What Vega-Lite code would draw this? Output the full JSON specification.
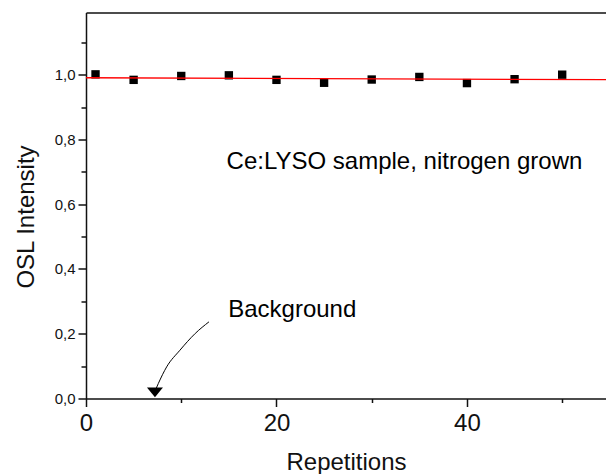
{
  "$schema": "https://vega.github.io/schema/vega-lite/v6.json",
  "width": 520,
  "height": 386,
  "autosize": {"type": "none"},
  "padding": {"left": 86, "top": 12.5, "right": 0, "bottom": 75.5},
  "background": "white",
  "config": {
    "view": {"stroke": null},
    "axis": {
      "grid": false,
      "domainColor": "#111111",
      "tickColor": "#111111",
      "domainWidth": 1.5,
      "tickWidth": 1.5,
      "labelFont": "Liberation Sans",
      "titleFont": "Liberation Sans",
      "labelColor": "#111111",
      "titleColor": "#111111",
      "titleFontWeight": "normal"
    }
  },
  "datasets": {
    "pts": [
      {"rep": 1, "osl": 1.001},
      {"rep": 5, "osl": 0.984},
      {"rep": 10, "osl": 0.996},
      {"rep": 15, "osl": 0.998},
      {"rep": 20, "osl": 0.984},
      {"rep": 25, "osl": 0.975},
      {"rep": 30, "osl": 0.985},
      {"rep": 35, "osl": 0.993},
      {"rep": 40, "osl": 0.974},
      {"rep": 45, "osl": 0.986},
      {"rep": 50, "osl": 1.0}
    ],
    "fit": [
      {"rep": 0, "osl": 0.9905},
      {"rep": 54.6, "osl": 0.9845}
    ],
    "arrow": [
      {"rep": 12.91, "osl": 0.2367},
      {"rep": 11.47, "osl": 0.2009},
      {"rep": 9.86, "osl": 0.149},
      {"rep": 8.47, "osl": 0.0977},
      {"rep": 7.59, "osl": 0.046},
      {"rep": 7.35, "osl": 0.03}
    ],
    "head": [{"rep": 7.24, "osl": 0.019}],
    "notes": [
      {"rep": 14.76, "osl": 0.708, "label": "Ce:LYSO sample, nitrogen grown"},
      {"rep": 14.93, "osl": 0.252, "label": "Background"}
    ]
  },
  "resolve": {"axis": {"x": "independent", "y": "independent"}},
  "layer": [
    {
      "data": {"name": "pts"},
      "mark": {"type": "point", "shape": "square", "filled": true, "color": "black", "size": 70, "opacity": 1},
      "encoding": {
        "x": {
          "field": "rep", "type": "quantitative",
          "scale": {"domain": [0, 54.6], "nice": false, "zero": false},
          "axis": {
            "orient": "bottom", "values": [0, 20, 40], "tickSize": 8,
            "labelFontSize": 24, "labelPadding": 5, "labelFlush": false,
            "title": "Repetitions", "titleFontSize": 24, "titleY": 52
          }
        },
        "y": {
          "field": "osl", "type": "quantitative",
          "scale": {"domain": [0, 1.192], "nice": false, "zero": false},
          "axis": {
            "orient": "left", "values": [0, 0.2, 0.4, 0.6, 0.8, 1.0], "tickSize": 8,
            "labelFontSize": 15, "labelPadding": 3, "labelFlush": false,
            "labelExpr": "replace(format(datum.value, '.1f'), '.', ',')",
            "title": "OSL Intensity", "titleFontSize": 24, "titleX": -48, "titleY": 204
          }
        }
      }
    },
    {
      "data": {"name": "fit"},
      "mark": {"type": "line", "color": "#ff0000", "strokeWidth": 1.3},
      "encoding": {
        "x": {
          "field": "rep", "type": "quantitative",
          "scale": {"domain": [0, 54.6], "nice": false, "zero": false},
          "axis": {"orient": "bottom", "values": [10, 30, 50], "tickSize": 4, "labels": false, "domain": false, "title": null}
        },
        "y": {
          "field": "osl", "type": "quantitative",
          "scale": {"domain": [0, 1.192], "nice": false, "zero": false},
          "axis": {"orient": "left", "values": [0.1, 0.3, 0.5, 0.7, 0.9, 1.1], "tickSize": 5, "labels": false, "domain": false, "title": null}
        }
      }
    },
    {
      "data": {"name": "arrow"},
      "mark": {"type": "line", "color": "black", "strokeWidth": 1, "interpolate": "monotone"},
      "encoding": {
        "x": {
          "field": "rep", "type": "quantitative",
          "scale": {"domain": [0, 54.6], "nice": false, "zero": false},
          "axis": {"orient": "top", "ticks": false, "labels": false, "domain": true, "title": null}
        },
        "y": {"field": "osl", "type": "quantitative", "scale": {"domain": [0, 1.192], "nice": false, "zero": false}, "axis": null}
      }
    },
    {
      "data": {"name": "head"},
      "mark": {"type": "point", "shape": "M-1,-0.6L1,-0.6L0,0.6Z", "filled": true, "color": "black", "size": 256, "opacity": 1},
      "encoding": {
        "x": {"field": "rep", "type": "quantitative", "scale": {"domain": [0, 54.6], "nice": false, "zero": false}, "axis": null},
        "y": {"field": "osl", "type": "quantitative", "scale": {"domain": [0, 1.192], "nice": false, "zero": false}, "axis": null}
      }
    },
    {
      "data": {"name": "notes"},
      "mark": {"type": "text", "align": "left", "baseline": "alphabetic", "font": "Liberation Sans", "fontSize": 24, "color": "black"},
      "encoding": {
        "x": {"field": "rep", "type": "quantitative", "scale": {"domain": [0, 54.6], "nice": false, "zero": false}, "axis": null},
        "y": {"field": "osl", "type": "quantitative", "scale": {"domain": [0, 1.192], "nice": false, "zero": false}, "axis": null},
        "text": {"field": "label"}
      }
    }
  ]
}
